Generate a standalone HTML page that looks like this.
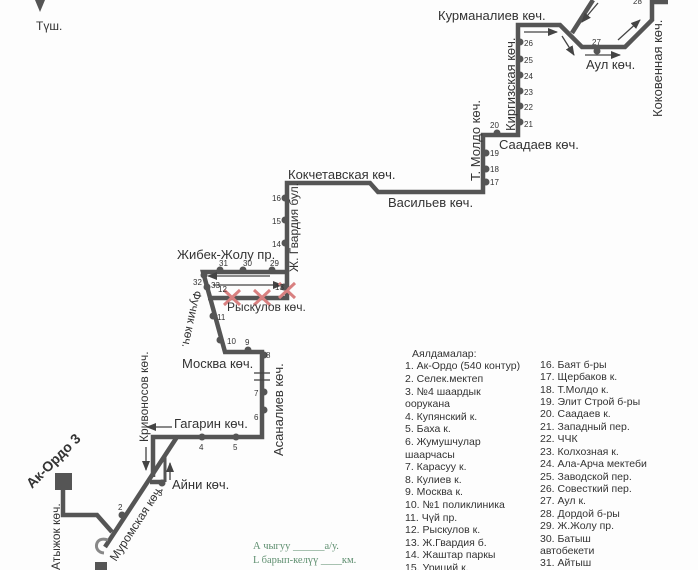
<!DOCTYPE html>
<html><head><meta charset="utf-8"><style>
html,body{margin:0;padding:0;background:#fdfdfd;}
svg{display:block;font-family:"Liberation Sans",sans-serif;}
</style></head><body>
<svg width="698" height="570" viewBox="0 0 698 570" xmlns="http://www.w3.org/2000/svg">
<defs>
<marker id="ah" markerWidth="10" markerHeight="8" refX="9" refY="4" orient="auto" markerUnits="userSpaceOnUse"><path d="M0,0 L10,4 L0,8 Z" fill="#444"/></marker>
</defs>
<rect width="698" height="570" fill="#fdfdfd"/>
<path d="M35,0 L45,0 L40,12 Z" fill="#555"/>
<text x="36" y="30" font-size="12" fill="#333">Түш.</text>

<g fill="none" stroke="#555" stroke-width="4.5" stroke-linejoin="miter">
<polyline points="63,490 63,515 97,515 112,532"/>
<line x1="105" y1="547" x2="177" y2="437"/>
<polyline points="153,477 153,437 262,437 262,352 225,352 203,272 287,272"/>
<polyline points="208,298 287,298 287,183 370,183 378,192 483,192 483,135 518,135 518,25 560,25 582,47 625,47 652,20 652,2 668,2"/>
<polyline points="572,33 593,0"/>
<polyline points="150,482 165,482"/>
</g>
<line x1="165" y1="482" x2="165" y2="455" stroke="#555" stroke-width="3"/>
<rect x="55" y="473" width="17" height="17" fill="#555"/>
<rect x="95" y="562" width="12" height="8" fill="#555"/>
<path d="M108,540 C95,535 92,552 104,553" fill="none" stroke="#888" stroke-width="3"/>
<g stroke="#444" stroke-width="1.3"><line x1="254" y1="373" x2="270" y2="373"/><line x1="254" y1="380" x2="270" y2="380"/></g>
<g stroke="#444" stroke-width="1.3" fill="none" marker-end="url(#ah)">
<line x1="270" y1="276" x2="208" y2="276"/>
<line x1="213" y1="285" x2="282" y2="285"/>
<line x1="172" y1="427" x2="147" y2="427"/>
<line x1="146" y1="447" x2="146" y2="470"/>
<line x1="170" y1="480" x2="170" y2="463"/>
<line x1="524" y1="32" x2="557" y2="32"/>
<line x1="562" y1="36" x2="574" y2="55"/>
<line x1="585" y1="55" x2="620" y2="55"/>
<line x1="618" y1="40" x2="640" y2="20"/>
<line x1="598" y1="3" x2="582" y2="22"/>
</g>
<g stroke="#d98080" stroke-width="3">
<path d="M224,290 L240,305 M240,290 L224,305"/>
<path d="M254,290 L270,305 M270,290 L254,305"/>
<path d="M279,283 L295,298 M295,283 L279,298"/>
</g>
<g fill="#555">
<circle cx="122" cy="515" r="3.5"/><circle cx="162" cy="483" r="3.5"/>
<circle cx="202" cy="437" r="3.5"/><circle cx="236" cy="437" r="3.5"/>
<circle cx="264" cy="410" r="3.5"/><circle cx="264" cy="392" r="3.5"/><circle cx="264" cy="355" r="3.5"/>
<circle cx="248" cy="350" r="3.5"/><circle cx="220" cy="340" r="3.5"/><circle cx="213" cy="316" r="3.5"/>
<circle cx="207" cy="287" r="3.5"/><circle cx="204" cy="275" r="3.5"/>
<circle cx="220" cy="270" r="3.5"/><circle cx="243" cy="270" r="3.5"/><circle cx="272" cy="270" r="3.5"/>
<circle cx="284" cy="287" r="3.5"/>
<circle cx="285" cy="243" r="3.5"/><circle cx="285" cy="220" r="3.5"/><circle cx="285" cy="198" r="3.5"/>
<circle cx="486" cy="182" r="3.5"/><circle cx="486" cy="169" r="3.5"/><circle cx="486" cy="153" r="3.5"/>
<circle cx="497" cy="133" r="3.5"/>
<circle cx="520" cy="122" r="3.5"/><circle cx="520" cy="106" r="3.5"/><circle cx="520" cy="91" r="3.5"/>
<circle cx="520" cy="75" r="3.5"/><circle cx="520" cy="59" r="3.5"/><circle cx="520" cy="42" r="3.5"/>
<circle cx="597" cy="51" r="3.5"/>
</g>
<g font-size="8" fill="#333">
<text x="118" y="510">2</text><text x="158" y="496">3</text><text x="199" y="450">4</text><text x="233" y="450">5</text>
<text x="254" y="420">6</text><text x="254" y="396">7</text><text x="266" y="358">8</text><text x="245" y="345">9</text>
<text x="227" y="344">10</text><text x="217" y="320">11</text><text x="218" y="292">12</text><text x="275" y="290">13</text>
<text x="211" y="288">33</text><text x="193" y="285">32</text><text x="219" y="266">31</text><text x="243" y="266">30</text><text x="270" y="266">29</text>
<text x="272" y="247">14</text><text x="272" y="224">15</text><text x="272" y="201">16</text>
<text x="490" y="185">17</text><text x="490" y="172">18</text><text x="490" y="156">19</text><text x="490" y="128">20</text>
<text x="524" y="127">21</text><text x="524" y="110">22</text><text x="524" y="95">23</text><text x="524" y="79">24</text><text x="524" y="63">25</text><text x="524" y="46">26</text>
<text x="592" y="45">27</text><text x="633" y="4">28</text>
</g>
<g fill="#333" font-size="13">
<text x="438" y="20">Курманалиев көч.</text>
<text transform="translate(515,131) rotate(-90)">Киргизская көч.</text>
<text transform="translate(480,181) rotate(-90)">Т. Молдо көч.</text>
<text x="499" y="149">Саадаев көч.</text>
<text x="586" y="69">Аул көч.</text>
<text transform="translate(662,117) rotate(-90)">Коковенная көч.</text>
<text x="288" y="179">Кокчетавская көч.</text>
<text x="388" y="207">Васильев көч.</text>
<text transform="translate(298,272) rotate(-90)" font-size="12">Ж. Гвардия бул.</text>
<text x="177" y="259">Жибек-Жолу пр.</text>
<text x="227" y="311" font-size="12">Рыскулов көч.</text>
<text transform="translate(194,290) rotate(102)" font-size="12">Фучик көч.</text>
<text x="182" y="368">Москва көч.</text>
<text transform="translate(283,456) rotate(-90)">Асаналиев көч.</text>
<text x="174" y="428">Гагарин көч.</text>
<text transform="translate(148,442) rotate(-90)" font-size="12">Кривоносов көч.</text>
<text x="172" y="489">Айни көч.</text>
<text transform="translate(32,489) rotate(-45)" font-weight="bold" font-size="14">Ак-Ордо 3</text>
<text transform="translate(60,570) rotate(-90)" font-size="12">Атыжок көч.</text>
<text transform="translate(116,562) rotate(-57)" font-size="12">Муромская көч.</text>
</g>
<g font-size="10.5" fill="#333">
<text x="412" y="357">Аялдамалар:</text>
<text x="405" y="369">1. Ак-Ордо (540 контур)</text>
<text x="405" y="382">2. Селек.мектеп</text>
<text x="405" y="395">3. №4 шаардык</text>
<text x="405" y="407">оорукана</text>
<text x="405" y="420">4. Купянский к.</text>
<text x="405" y="432">5. Баха к.</text>
<text x="405" y="445">6. Жумушчулар</text>
<text x="405" y="458">шаарчасы</text>
<text x="405" y="470">7. Карасуу к.</text>
<text x="405" y="483">8. Кулиев к.</text>
<text x="405" y="495">9. Москва к.</text>
<text x="405" y="508">10. №1 поликлиника</text>
<text x="405" y="521">11. Чүй пр.</text>
<text x="405" y="533">12. Рыскулов к.</text>
<text x="405" y="546">13. Ж.Гвардия б.</text>
<text x="405" y="558">14. Жаштар паркы</text>
<text x="405" y="571">15. Уриций к.</text>
<text x="540" y="368">16. Баят б-ры</text>
<text x="540" y="380">17. Щербаков к.</text>
<text x="540" y="393">18. Т.Молдо к.</text>
<text x="540" y="405">19. Элит Строй б-ры</text>
<text x="540" y="417">20. Саадаев к.</text>
<text x="540" y="430">21. Западный пер.</text>
<text x="540" y="442">22. ЧЧК</text>
<text x="540" y="455">23. Колхозная к.</text>
<text x="540" y="467">24. Ала-Арча мектеби</text>
<text x="540" y="480">25. Заводской пер.</text>
<text x="540" y="492">26. Совесткий пер.</text>
<text x="540" y="504">27. Аул к.</text>
<text x="540" y="517">28. Дордой б-ры</text>
<text x="540" y="529">29. Ж.Жолу пр.</text>
<text x="540" y="542">30. Батыш</text>
<text x="540" y="554">автобекети</text>
<text x="540" y="566">31. Айтыш</text>
</g>
<g font-family="Liberation Serif,serif" font-size="10.5" fill="#5f8f70">
<text x="253" y="549">А чыгуу  ______а/у.</text>
<text x="253" y="563">L барып-келүү  ____км.</text>
</g>
</svg>
</body></html>
